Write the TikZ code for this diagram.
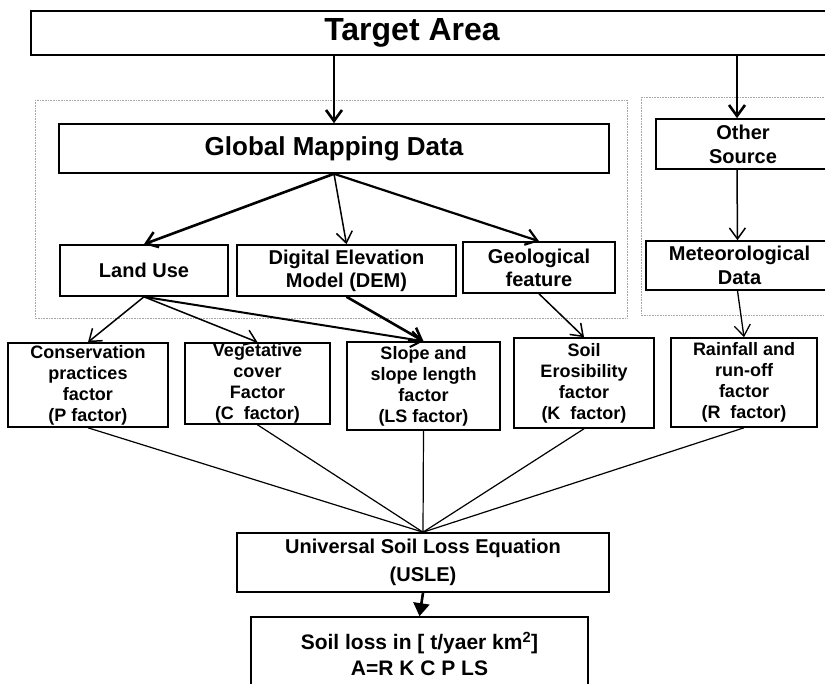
\documentclass[tikz,border=0pt]{standalone}
\usepackage{fontspec}
\setmainfont{Liberation Sans}
\usetikzlibrary{arrows.meta,calc}

\begin{document}
\begin{tikzpicture}[x=1pt,y=-1pt,
	box/.style={rectangle, draw=black, line width=1.6pt, fill=white, inner sep=0, align=center, font=\bfseries\fontsize{20}{23}\selectfont},
	fact/.style={box, font=\bfseries\fontsize{18}{21}\selectfont},
	zone/.style={draw=black!35, densely dotted, line width=0.6pt},
	link/.style={line width=1.5pt, -{Straight Barb[length=11pt,width=16pt]}},
	tlink/.style={link, line width=2.6pt},
	flink/.style={line width=1.2pt}]

		\useasboundingbox (0,0) rectangle (825,684);
		\clip (0,0) rectangle (825,684);
		%data zones
		\draw[zone] (35,100) rectangle (627,318);
		\draw[zone] (641,97) rectangle (860,315);
		%target
		\node[box, minimum width=830pt, minimum height=44pt, anchor=west] at (30,33) (tgt) {};
		\node[font=\bfseries\fontsize{32}{36}\selectfont] at (412,33) (tgtlab) {Target Area};
		%sources
		\node[box, minimum width=550pt, minimum height=49pt, font=\bfseries\fontsize{26}{30}\selectfont] at (334,148.5) (glob) {Global Mapping Data};
		\node[box, minimum width=174pt, minimum height=50pt, font=\bfseries\fontsize{20}{24}\selectfont] at (743,144) (oth) {Other\\Source};
		%data
		\node[box, minimum width=168pt, minimum height=51pt] at (144,270.5) (land) {Land Use};
		\node[box, minimum width=219pt, minimum height=51pt] at (346.5,270.5) (dem) {Digital Elevation\\Model (DEM)};
		\node[box, minimum width=152pt, minimum height=51pt] at (539,267.5) (geo) {Geological\\feature};
		\node[box, minimum width=187pt, minimum height=49pt, font=\bfseries\fontsize{20}{24}\selectfont] at (739.5,265.5) (met) {Meteorological\\Data};
		%factors
		\node[fact, minimum width=160pt, minimum height=84pt] at (88,385) (pf) {Conservation\\practices\\factor\\(P factor)};
		\node[fact, minimum width=145pt, minimum height=81pt] at (257.5,383.5) (cf) {Vegetative\\cover\\Factor\\(C~ factor)};
		\node[fact, minimum width=153pt, minimum height=88pt] at (423.5,386) (lsf) {Slope and\\slope length\\factor\\(LS factor)};
		\node[fact, minimum width=140pt, minimum height=90pt] at (584,383) (kf) {Soil\\Erosibility\\factor\\(K~ factor)};
		\node[fact, minimum width=146pt, minimum height=89pt] at (744,382.5) (rf) {Rainfall and\\run-off\\factor\\(R~ factor)};
		%equation
		\node[box, minimum width=372pt, minimum height=59pt, font=\bfseries\fontsize{20}{28}\selectfont] at (423,562.5) (usle) {Universal Soil Loss Equation\\(USLE)};
		\node[box, minimum width=337pt, minimum height=74pt, font=\bfseries\fontsize{21}{26}\selectfont] at (419.5,654) (soil) {Soil loss in [ t/yaer km$^{\mathbf 2}$]\\A=R K C P LS};

		\draw[tlink] (tgt.south -| glob.north) -- (glob.north);
		\draw[tlink] ($(tgt.south -| oth.north)+(-6,0)$) -- ($(oth.north)+(-6,0)$);
		\draw[tlink] (glob.south) -- (land.north);
		\draw[link] (glob.south) -- (dem.north);
		\draw[tlink, line width=2.2pt] (glob.south) -- (geo.north);
		\draw[link] ($(oth.south)+(-6,0)$) -- ($(met.north)+(-2,0)$);
		\draw[link] (land.south) -- (pf.north);
		\draw[link] (land.south) -- (cf.north);
		\draw[link, line width=2pt] (land.south) -- (lsf.north);
		\draw[tlink] (dem.south) -- (lsf.north);
		\draw[link] (geo.south) -- (kf.north);
		\draw[link, line width=1.3pt] ($(met.south)+(-2,0)$) -- (rf.north);
		\foreach \f in {pf,cf,lsf,kf,rf} {
			\draw[flink] (\f.south) -- (usle.north);
		}
		\draw[line width=2.6pt, -{Triangle[length=13pt,width=16pt]}] (usle.south) -- (soil.north);
	\end{tikzpicture}
\end{document}
